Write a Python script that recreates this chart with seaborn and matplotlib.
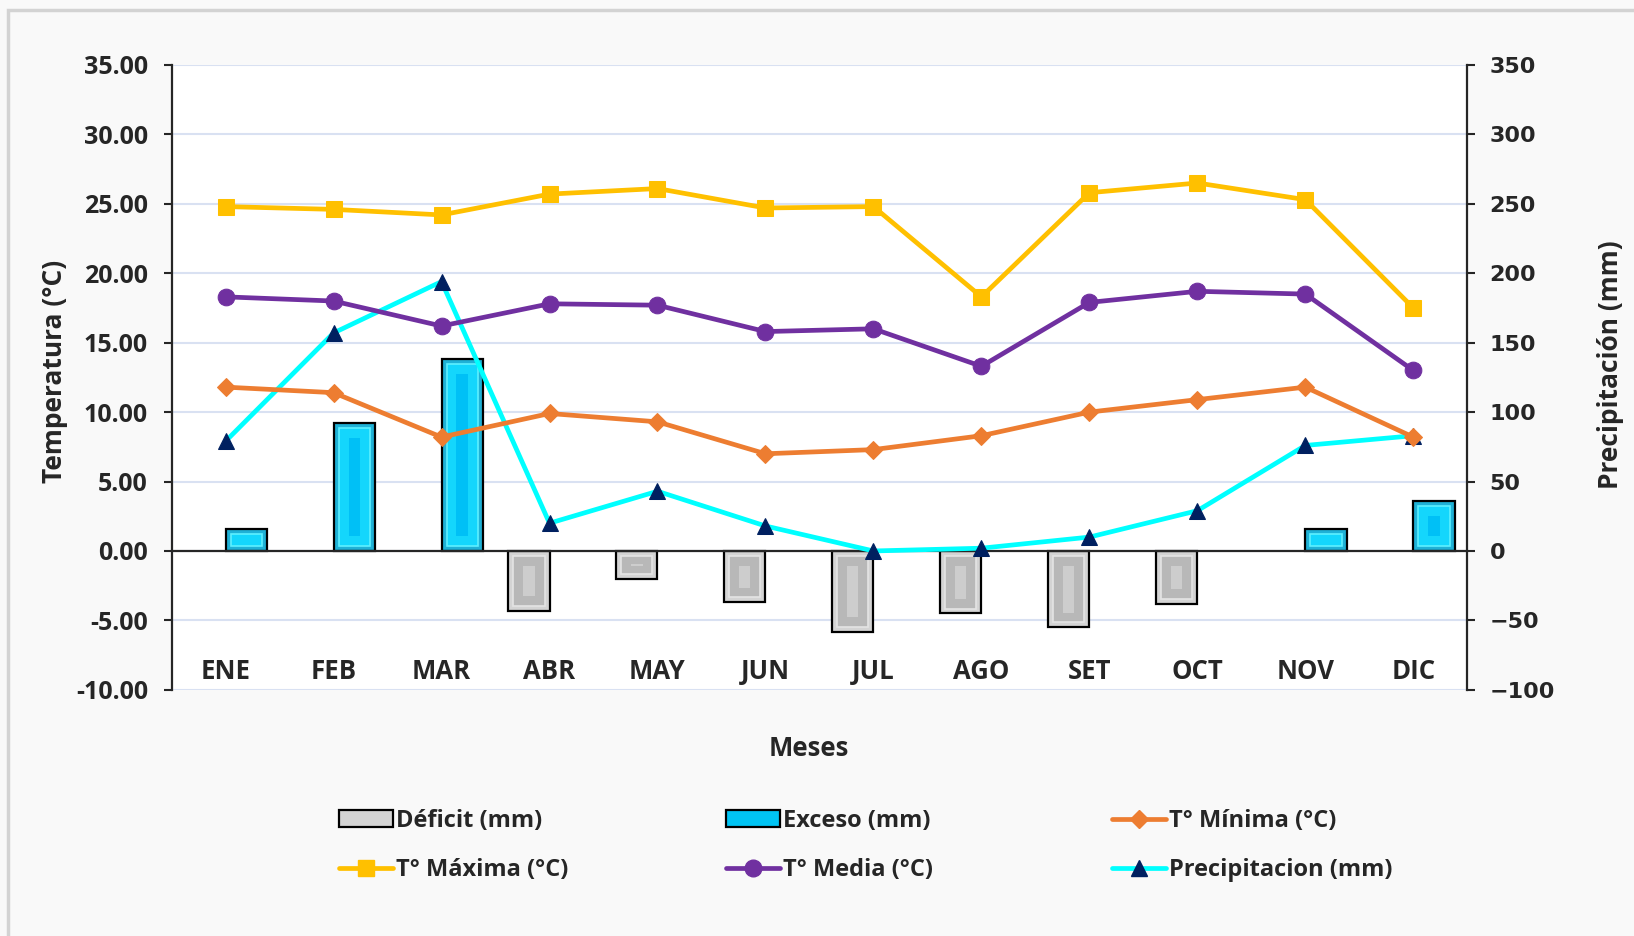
import matplotlib
matplotlib.use("Agg")
import matplotlib.pyplot as plt
import seaborn as sns
import pandas as pd
import numpy as np
from matplotlib.patches import Rectangle, Patch
from matplotlib.lines import Line2D

meses = ['ENE', 'FEB', 'MAR', 'ABR', 'MAY', 'JUN', 'JUL', 'AGO', 'SET', 'OCT', 'NOV', 'DIC']
t_max = [24.8, 24.6, 24.2, 25.7, 26.1, 24.7, 24.8, 18.3, 25.8, 26.5, 25.3, 17.5]
t_media = [18.3, 18.0, 16.2, 17.8, 17.7, 15.8, 16.0, 13.3, 17.9, 18.7, 18.5, 13.0]
t_min = [11.8, 11.4, 8.2, 9.9, 9.3, 7.0, 7.3, 8.3, 10.0, 10.9, 11.8, 8.2]
precip = [79, 157, 194, 20, 43, 18, 0, 2, 10, 29, 76, 83]
deficit = [0, 0, 0, -43, -20, -37, -58, -45, -55, -38, 0, 0]
exceso = [16, 92, 138, 0, 0, 0, 0, 0, 0, 0, 16, 36]

sns.set_style("white")
plt.rcParams['font.family'] = ['Open Sans', 'DejaVu Sans']
plt.rcParams['font.weight'] = 'bold'

fig = plt.figure(figsize=(16.34, 9.36), dpi=100, facecolor='#f9f9f9')
ax = fig.add_axes([0.105, 0.263, 0.793, 0.6676])
ax.set_facecolor('white')

# barras en mm (eje derecho)
rows = []
for m, d, e in zip(meses, deficit, exceso):
    if d != 0:
        rows.append({'mes': m, 'tipo': 'Déficit (mm)', 'mm': d})
    if e != 0:
        rows.append({'mes': m, 'tipo': 'Exceso (mm)', 'mm': e})
bars = pd.DataFrame(rows)
sns.barplot(data=bars, x='mes', y='mm', hue='tipo', order=meses,
            hue_order=['Déficit (mm)', 'Exceso (mm)'],
            palette={'Déficit (mm)': '#d4d4d4', 'Exceso (mm)': '#00c4f4'},
            width=0.77, dodge=True, edgecolor='black', linewidth=1.6, ax=ax,
            legend=False, zorder=2)

# efecto bisel
for p in list(ax.patches):
    x0, y0, w, h = p.get_x(), p.get_y(), p.get_width(), p.get_height()
    if h == 0:
        continue
    exc = h > 0
    y_lo, y_hi = min(y0, y0 + h), max(y0, y0 + h)
    dx, dy = w * 0.12, 3.5
    ax.add_patch(Rectangle((x0 + dx, y_lo + dy), w - 2 * dx, (y_hi - y_lo) - 2 * dy,
                           facecolor='#14d6fc' if exc else '#b8b8b8',
                           edgecolor='#5ef0ff' if exc else '#e4e4e4',
                           linewidth=1.2, zorder=2.1))
    if (y_hi - y_lo) > 16:
        ax.add_patch(Rectangle((x0 + w * 0.36, y_lo + 3 * dy), w * 0.28,
                               (y_hi - y_lo) - 6 * dy,
                               facecolor='#00c0f6' if exc else '#cdcdcd',
                               edgecolor='none', zorder=2.2))

df = pd.DataFrame({'pos': range(len(meses)), 'tmax': t_max, 'tmed': t_media,
                   'tmin': t_min, 'pp': precip})

sns.lineplot(data=df, x='pos', y='pp', ax=ax, color='#00ffff', linewidth=3.4,
             marker='^', markersize=12, markerfacecolor='#002060',
             markeredgecolor='#002060', zorder=4)

ax.set_xlim(-0.5, 11.5)
ax.set_ylim(-100, 350)
ax.set_yticks(range(-100, 351, 50))
ax.grid(axis='y', color='#d9e1f2', linewidth=1.5, zorder=0)
ax.set_axisbelow(True)

ax2 = ax.twinx()
sns.lineplot(data=df, x='pos', y='tmin', ax=ax2, color='#ed7d31', linewidth=3.4,
             marker='D', markersize=9, markeredgecolor='#ed7d31')
sns.lineplot(data=df, x='pos', y='tmax', ax=ax2, color='#ffc000', linewidth=3.4,
             marker='s', markersize=11, markeredgecolor='#ffc000')
sns.lineplot(data=df, x='pos', y='tmed', ax=ax2, color='#7030a0', linewidth=3.4,
             marker='o', markersize=12, markeredgecolor='#7030a0')
ax2.set_ylim(-10, 35)
ax2.set_yticks(range(-10, 36, 5))
ax2.set_yticklabels([f'{v:.2f}' for v in range(-10, 36, 5)])

# ejes
ax.yaxis.tick_right()
ax.yaxis.set_label_position('right')
ax2.yaxis.tick_left()
ax2.yaxis.set_label_position('left')

for s in ['top', 'left']:
    ax.spines[s].set_visible(False)
ax.spines['bottom'].set_position(('data', 0))
ax.spines['bottom'].set_linewidth(1.6)
ax.spines['right'].set_linewidth(1.6)
for s in ['top', 'bottom', 'right']:
    ax2.spines[s].set_visible(False)
ax2.spines['left'].set_linewidth(1.6)

ax.set_xticks(range(len(meses)))
ax.set_xticklabels(meses)
ax.set_xticks(np.arange(-0.5, 11.6, 1), minor=True)
ax.tick_params(axis='x', which='major', length=0, pad=77, labelsize=18.5)
ax.tick_params(axis='x', which='minor', direction='out', length=7, width=1.5, color='black')
ax.tick_params(axis='y', direction='out', length=6, width=1.5, labelsize=16, pad=10)
ax2.tick_params(axis='y', direction='out', length=6, width=1.5, labelsize=18, pad=11)
for t in ax.get_yticklabels():
    t.set_fontfamily('DejaVu Sans')
    t.set_fontweight('bold')

ax.set_xlabel('Meses', fontsize=18.5, fontweight='bold')
ax.xaxis.set_label_coords(0.492, -0.073)
ax.set_ylabel('Precipitación (mm)', fontsize=19, fontweight='bold')
ax.yaxis.set_label_coords(1.1, 0.52)
ax2.set_ylabel('Temperatura (°C)', fontsize=19, fontweight='bold')
ax2.yaxis.set_label_coords(-0.08, 0.51)

# leyenda
h_def = Patch(facecolor='#d4d4d4', edgecolor='black', linewidth=1.6)
h_exc = Patch(facecolor='#00c4f4', edgecolor='black', linewidth=1.6)
h_min = Line2D([], [], color='#ed7d31', lw=3.4, marker='D', ms=9)
h_max = Line2D([], [], color='#ffc000', lw=3.4, marker='s', ms=11)
h_med = Line2D([], [], color='#7030a0', lw=3.4, marker='o', ms=12)
h_pp = Line2D([], [], color='#00ffff', lw=3.4, marker='^', ms=12,
              markerfacecolor='#002060', markeredgecolor='#002060')
cols = [([h_def, h_max], ['Déficit (mm)', 'T° Máxima (°C)'], 339),
        ([h_exc, h_med], ['Exceso (mm)', 'T° Media (°C)'], 726),
        ([h_min, h_pp], ['T° Mínima (°C)', 'Precipitacion (mm)'], 1112)]
for hs, ls, xpx in cols:
    fig.legend(hs, ls, loc='upper left', bbox_to_anchor=(xpx / 1634, 1 - 809 / 936),
               frameon=False, handlelength=2.3, handletextpad=0.1,
               borderpad=0, borderaxespad=0, labelspacing=1.05,
               prop={'weight': 'bold', 'size': 17})

fig.patches.append(Rectangle((8 / 1634, -0.05), 1.2, 1 - 10 / 936 + 0.05,
                             transform=fig.transFigure, fill=False,
                             edgecolor='#d3d3d3', linewidth=2.5))

fig.savefig('out.png', dpi=100, facecolor=fig.get_facecolor())
